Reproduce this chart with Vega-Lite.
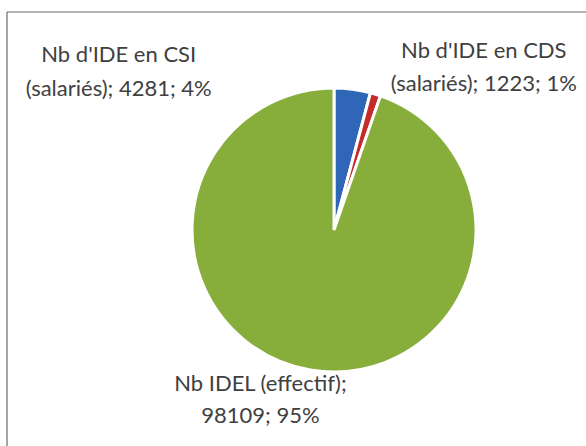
{
  "$schema": "https://vega.github.io/schema/vega-lite/v6.json",
  "width": 579,
  "height": 434,
  "autosize": {"type": "none"},
  "padding": {"left": 7, "top": 12, "right": 0, "bottom": 0},
  "background": "white",
  "config": {"view": {"stroke": null}},
  "datasets": {
    "frame": [{"frame": "border"}]
  },
  "data": {
    "values": [
      {"cat": "CSI", "order": 1, "n": 4281, "label": "Nb d'IDE en CSI\n(salariés); 4281; 4%"},
      {"cat": "CDS", "order": 2, "n": 1223, "label": "Nb d'IDE en CDS\n(salariés); 1223; 1%"},
      {"cat": "IDEL", "order": 3, "n": 98109, "label": "Nb IDEL (effectif);\n98109; 95%"}
    ]
  },
  "layer": [
    {
      "data": {"name": "frame"},
      "mark": {"type": "rule", "stroke": "#6b6b6b", "strokeWidth": 1.2},
      "encoding": {
        "x": {"value": 0},
        "x2": {"value": "width"},
        "y": {"value": 0}
      }
    },
    {
      "data": {"name": "frame"},
      "mark": {"type": "rule", "stroke": "#6b6b6b", "strokeWidth": 1.2},
      "encoding": {
        "x": {"value": 0},
        "y": {"value": 0},
        "y2": {"value": "height"}
      }
    },
    {
      "mark": {"type": "arc", "radius": 142, "stroke": "white", "strokeWidth": 3, "x": {"expr": "width / 2 + 37.5"}, "y": {"expr": "height / 2 + 1"}},
      "encoding": {
        "theta": {"field": "n", "type": "quantitative", "stack": true},
        "order": {"field": "order", "type": "quantitative"},
        "color": {
          "field": "cat",
          "type": "nominal",
          "scale": {"domain": ["CSI", "CDS", "IDEL"], "range": ["#2F66B7", "#C42B2B", "#87AD3B"]},
          "legend": null
        }
      }
    },
    {
      "mark": {"type": "text", "radius": 160, "dx": -236, "dy": -16, "x": {"expr": "width / 2 + 37.5"}, "y": {"expr": "height / 2 + 1"}, "font": "Lato", "fontSize": 22, "lineHeight": 34, "lineBreak": "\n", "color": "#404040", "baseline": "middle", "align": "center"},
      "encoding": {
        "theta": {"field": "n", "type": "quantitative", "stack": true},
        "order": {"field": "order", "type": "quantitative"},
        "text": {"condition": {"test": "datum.cat === 'CSI'", "field": "label"}, "value": ""}
      }
    },
    {
      "mark": {"type": "text", "radius": 160, "dx": 103, "dy": -26, "x": {"expr": "width / 2 + 37.5"}, "y": {"expr": "height / 2 + 1"}, "font": "Lato", "fontSize": 22, "lineHeight": 33, "lineBreak": "\n", "color": "#404040", "baseline": "middle", "align": "center"},
      "encoding": {
        "theta": {"field": "n", "type": "quantitative", "stack": true},
        "order": {"field": "order", "type": "quantitative"},
        "text": {"condition": {"test": "datum.cat === 'CDS'", "field": "label"}, "value": ""}
      }
    },
    {
      "mark": {"type": "text", "radius": 160, "dx": -47, "dy": -4, "x": {"expr": "width / 2 + 37.5"}, "y": {"expr": "height / 2 + 1"}, "font": "Lato", "fontSize": 22, "lineHeight": 32, "lineBreak": "\n", "color": "#404040", "baseline": "middle", "align": "center"},
      "encoding": {
        "theta": {"field": "n", "type": "quantitative", "stack": true},
        "order": {"field": "order", "type": "quantitative"},
        "text": {"condition": {"test": "datum.cat === 'IDEL'", "field": "label"}, "value": ""}
      }
    }
  ]
}
